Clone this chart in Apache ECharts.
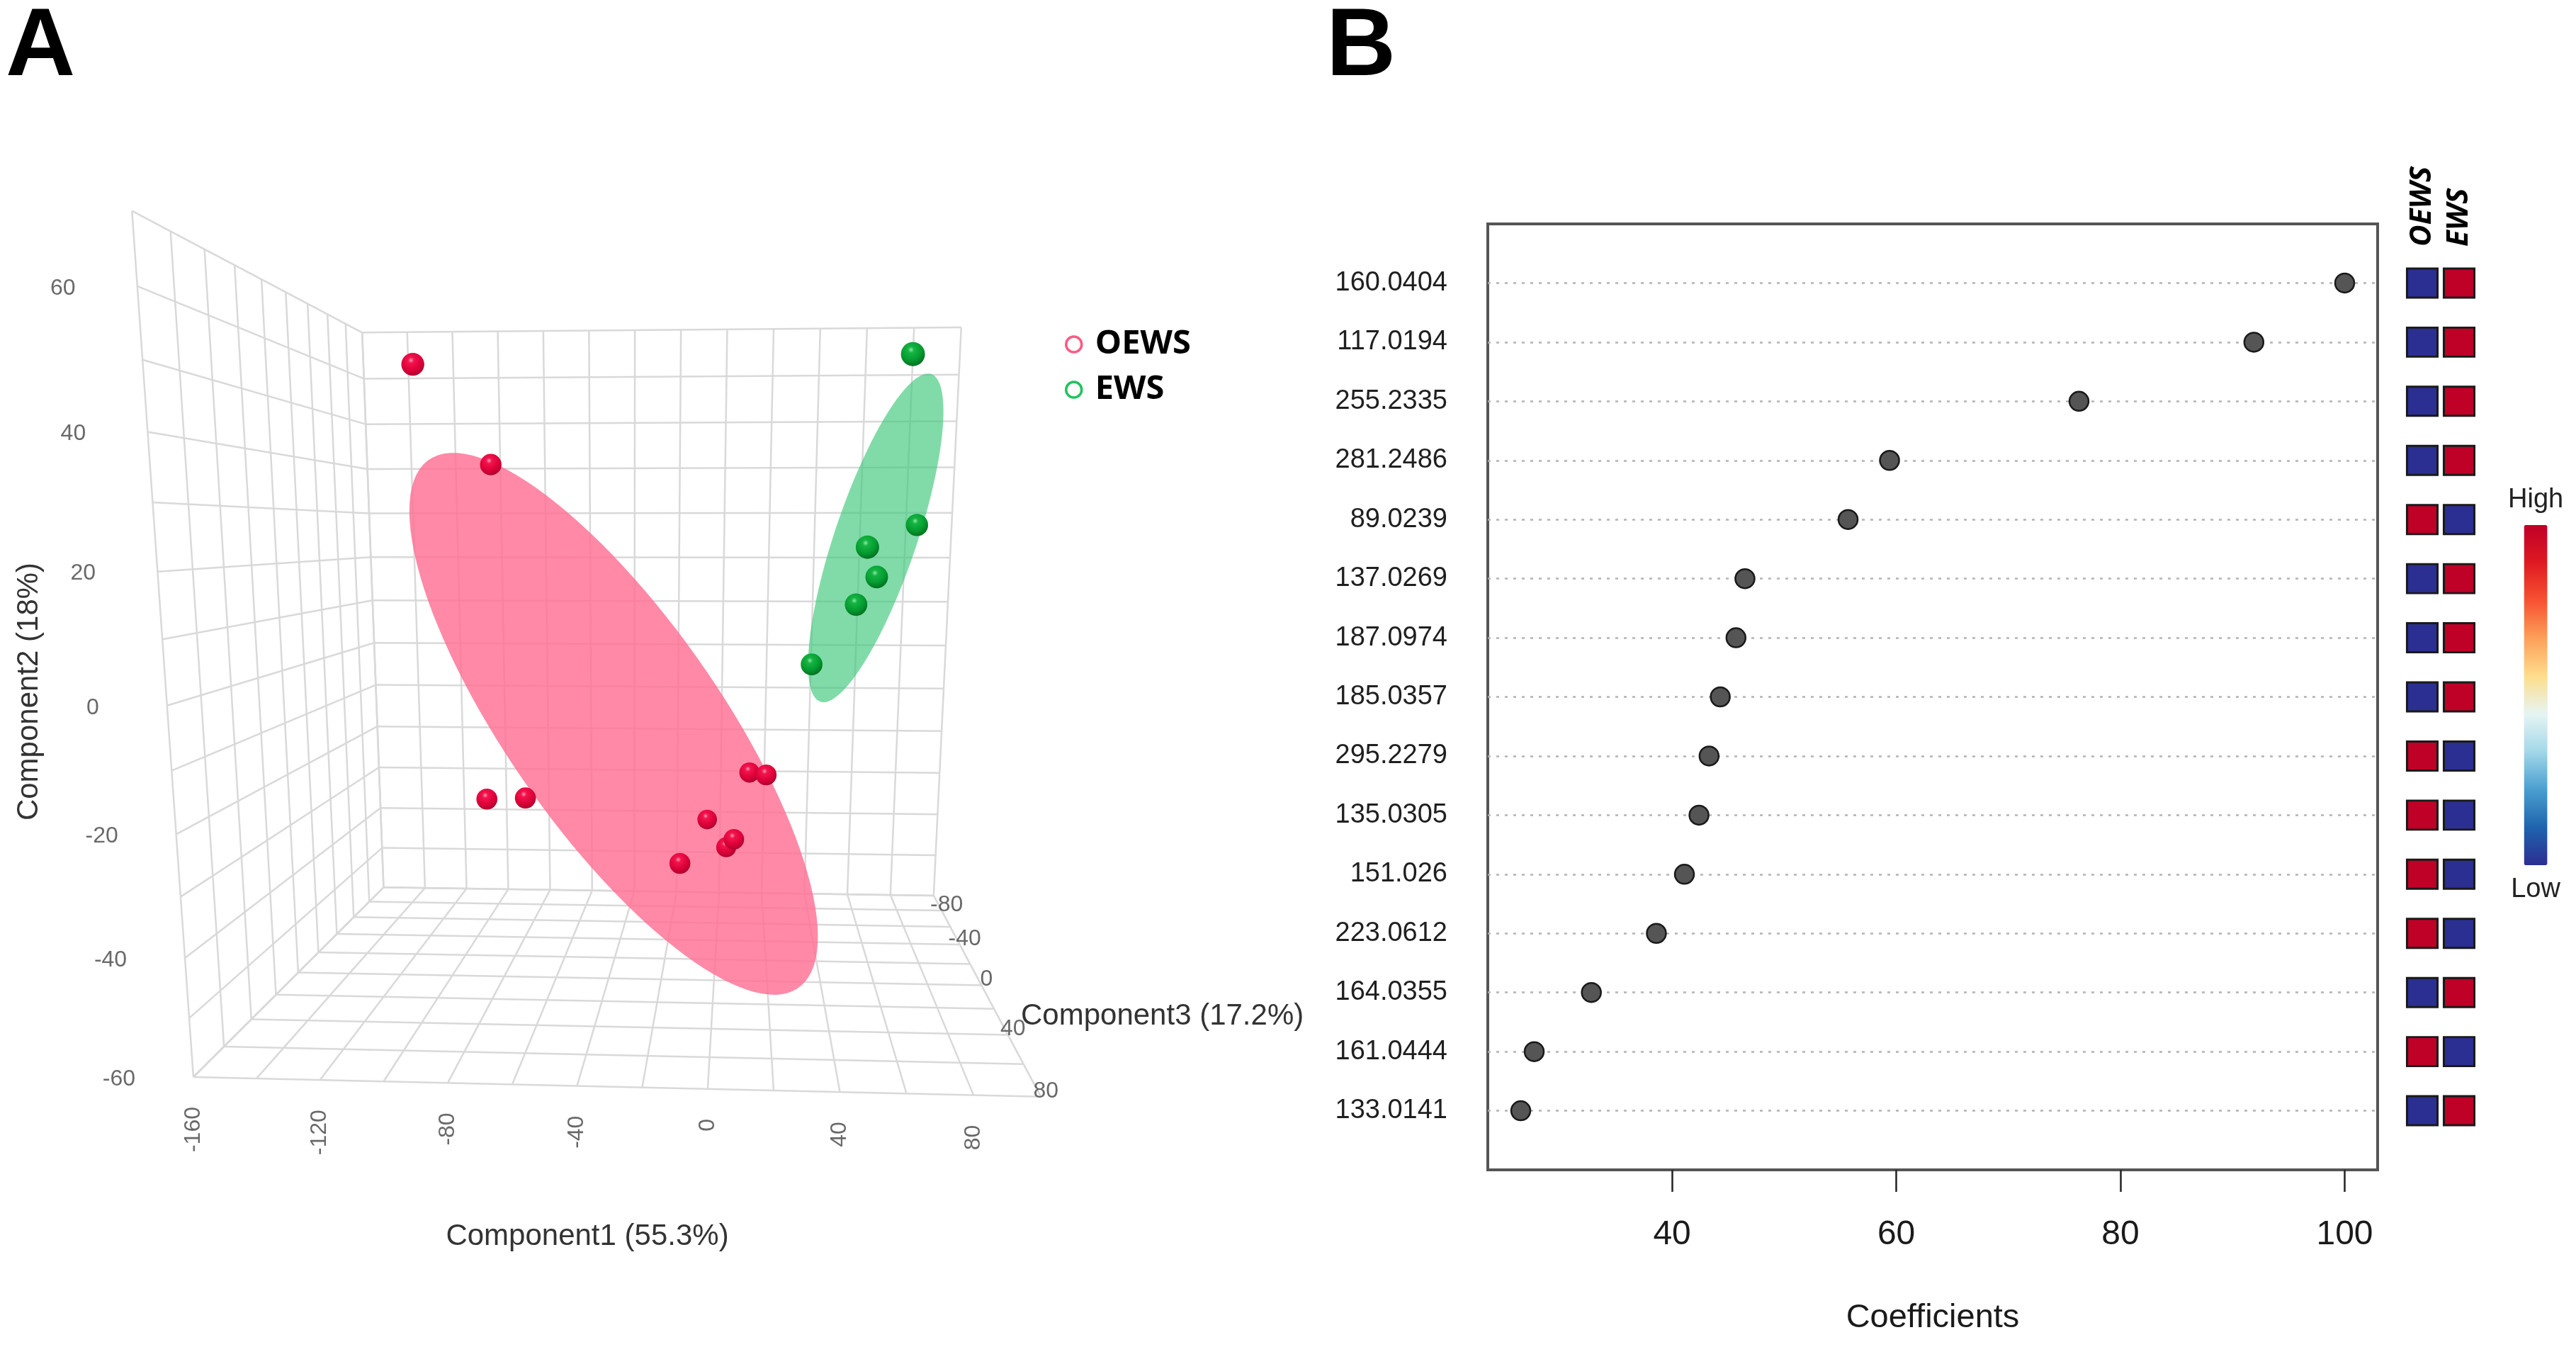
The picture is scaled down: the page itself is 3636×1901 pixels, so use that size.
<!DOCTYPE html>
<html>
<head>
<meta charset="utf-8">
<title>PLS-DA scores and coefficients</title>
<script src="https://cdn.jsdelivr.net/npm/echarts@6/dist/echarts.min.js"></script>
<style>
html,body{margin:0;padding:0;background:#fff;}
#chart{width:3636px;height:1901px;}
</style>
</head>
<body>
<div id="chart"></div>
<script>
// ---------- panel B : coefficients ----------
var features=['160.0404','117.0194','255.2335','281.2486','89.0239','137.0269','187.0974','185.0357','295.2279','135.0305','151.026','223.0612','164.0355','161.0444','133.0141'];
var coefficients=[100,91.9,76.3,59.4,55.7,46.5,45.7,44.3,43.3,42.4,41.1,38.6,32.8,27.7,26.5];
var groups=['OEWS','EWS'];
var oewsLevel=[0,0,0,0,1,0,0,0,1,1,1,1,0,1,0];//1 high 0 low
var ewsLevel=[1,1,1,1,0,1,1,1,0,0,0,0,1,0,1];
var coefTicks=[40,60,80,100];

// ---------- panel A : 3D scores ----------
var oewsC1=[-107.9,-85.8,-87.6,-72.8,12.3,18.6,-4.4,6.6,3.6,-13.8];
var oewsC2=[55.3,38.4,-25.7,-25.4,-22.2,-21.5,-33.5,-34.7,-37.9,-38.2];
var oewsC3=[0,-20,-10,-10,-30,-20,-40,-20,-30,-10];
var ewsC1=[63.3,70.3,50.6,55.4,48.5,34.1];
var ewsC2=[55.6,27.0,23.1,17.7,12.7,1.1];
var ewsC3=[10,-10,10,0,0,-10];
// confidence ellipsoids: centre and two semi axes (data units)
var oewsEllCenter=[-37.8,-12.9,-15], oewsEllAxisA=[70.2,-51.9,0], oewsEllAxisB=[33.2,12.2,0];
var ewsEllCenter=[54.1,23.9,0], ewsEllAxisA=[-17.2,-29.1,0], ewsEllAxisB=[13.7,-2.3,0];
var c1Ticks=[-160,-120,-80,-40,0,40,80];
var c2Ticks=[-60,-40,-20,0,20,40,60];
var c3Ticks=[-80,-40,0,40,80];
var c1Range=[-160,100], c2Range=[-60,70], c3Range=[-100,80];

var SANS="'Liberation Sans',Arial,sans-serif";
var BOLD="'Open Sans','Noto Sans',sans-serif";

// box corners / grid crossings as seen on the page: [c1,c2,c3, px,py]
var viewAnchors=[
 [-160,70,80,184,298.5],[-160,-60,80,274,1520],[100,-60,80,1468,1548],
 [-160,70,-100,512.6,469.4],[100,70,-100,1356.4,461.7],[-160,-60,-100,540,1252.6],[100,-60,-100,1319,1264],
 [-160,60,80,191.7,403],[-160,40,80,206.9,609.7],[-160,20,80,221.4,806],[-160,0,80,235.3,995],
 [-160,-20,80,248.7,1176],[-160,-40,80,261.6,1352],
 [-120,-60,80,453.5,1524],[-80,-60,80,634,1529],[0,-60,80,1000.5,1536.7],[40,-60,80,1185.3,1542],[80,-60,80,1373.6,1545.5],
 [-160,70,40,288.8,353],[-160,70,0,370.3,395.4],[-160,70,-60,463.8,443.5],
 [-80,70,-100,769,466.5],[0,70,-100,1026.3,464.5],[-40,20,-100,894.5,786.7],[-40,-20,-100,893.8,1028],
 [-160,-20,-100,532,1025.5],[-160,-40,-100,536.7,1140]
];

function nx(X){return (X-(c1Range[0]+c1Range[1])/2)/((c1Range[1]-c1Range[0])/2);}
function ny(Y){return (Y-(c2Range[0]+c2Range[1])/2)/((c2Range[1]-c2Range[0])/2);}
function nz(Z){return (Z-(c3Range[0]+c3Range[1])/2)/((c3Range[1]-c3Range[0])/2);}

//least squares camera (DLT)
function fitView(anchors){
  var rows=[],rhs=[],i,j,k;
  anchors.forEach(function(a){
    var X=nx(a[0]),Y=ny(a[1]),Z=nz(a[2]),u=(a[3]-800)/500,v=(a[4]-900)/500;
    rows.push([X,Y,Z,1,0,0,0,0,-u*X,-u*Y,-u*Z]);rhs.push(u);
    rows.push([0,0,0,0,X,Y,Z,1,-v*X,-v*Y,-v*Z]);rhs.push(v);
  });
  var n=11,M=[],r=[];
  for(i=0;i<n;i++){M.push([]);r.push(0);for(j=0;j<n;j++)M[i].push(0);}
  for(k=0;k<rows.length;k++){
    for(i=0;i<n;i++){
      r[i]+=rows[k][i]*rhs[k];
      for(j=0;j<n;j++)M[i][j]+=rows[k][i]*rows[k][j];
    }
  }
  for(i=0;i<n;i++){
    var p=i;
    for(j=i+1;j<n;j++)if(Math.abs(M[j][i])>Math.abs(M[p][i]))p=j;
    var t=M[i];M[i]=M[p];M[p]=t;t=r[i];r[i]=r[p];r[p]=t;
    for(j=i+1;j<n;j++){
      var f=M[j][i]/M[i][i];
      for(var c=i;c<n;c++)M[j][c]-=f*M[i][c];
      r[j]-=f*r[i];
    }
  }
  var x=[];
  for(i=n-1;i>=0;i--){
    var s=r[i];
    for(j=i+1;j<n;j++)s-=M[i][j]*x[j];
    x[i]=s/M[i][i];
  }
  return x;
}
var P=fitView(viewAnchors);
function project(X,Y,Z){
  var x=nx(X),y=ny(Y),z=nz(Z);
  var w=P[8]*x+P[9]*y+P[10]*z+1;
  return [800+500*(P[0]*x+P[1]*y+P[2]*z+P[3])/w,900+500*(P[4]*x+P[5]*y+P[6]*z+P[7])/w,w];
}

//box grid on back wall, left wall and floor
var gridSegs=[];
function addSeg(a,b){
  var p=project(a[0],a[1],a[2]),q=project(b[0],b[1],b[2]);
  gridSegs.push([p[0],p[1],q[0],q[1]]);
}
var X,Y,Z;
for(X=c1Range[0];X<=c1Range[1];X+=20){addSeg([X,c2Range[0],c3Range[0]],[X,c2Range[1],c3Range[0]]);addSeg([X,c2Range[0],c3Range[0]],[X,c2Range[0],c3Range[1]]);}
for(Y=c2Range[0];Y<=c2Range[1];Y+=10){addSeg([c1Range[0],Y,c3Range[0]],[c1Range[1],Y,c3Range[0]]);addSeg([c1Range[0],Y,c3Range[0]],[c1Range[0],Y,c3Range[1]]);}
for(Z=c3Range[0];Z<=c3Range[1];Z+=20){addSeg([c1Range[0],c2Range[0],Z],[c1Range[0],c2Range[1],Z]);addSeg([c1Range[0],c2Range[0],Z],[c1Range[1],c2Range[0],Z]);}

var sphereBase=30.5;
function spheres(c1,c2,c3){
  var out=c1.map(function(v,i){var p=project(v,c2[i],c3[i]);return [p[0],p[1],sphereBase/p[2],p[2]];});
  out.sort(function(a,b){return b[3]-a[3];});
  return out;
}
var ellipses=[
 {center:oewsEllCenter,a:oewsEllAxisA,b:oewsEllAxisB,fill:'rgba(255,108,145,0.8)'},
 {center:ewsEllCenter,a:ewsEllAxisA,b:ewsEllAxisB,fill:'rgba(62,200,122,0.65)'}
];

var c1Labels=c1Ticks.map(function(t){var p=project(t,c2Range[0],c3Range[1]);return {name:String(t),value:[p[0],p[1]+42]};});
var c2Labels=c2Ticks.map(function(t){var p=project(c1Range[0],t,c3Range[1]);return {name:String(t),value:[p[0]-105,p[1]+3]};});
var c3Labels=c3Ticks.map(function(t){var p=project(c1Range[1],c2Range[0],t);return {name:String(t),value:[p[0]+7,p[1]-8]};});

function sphereColor(hi,mid,edge,light){
  return {type:'radial',x:0.42,y:0.32,r:0.72,colorStops:[{offset:0,color:light},{offset:0.18,color:hi},{offset:0.6,color:mid},{offset:1,color:edge}]};
}

var heatData=[];
features.forEach(function(f,i){heatData.push([0,i+1,oewsLevel[i]]);heatData.push([1,i+1,ewsLevel[i]]);});
var coefRange=Math.max.apply(null,coefficients)-Math.min.apply(null,coefficients);
var coefMin=Math.min.apply(null,coefficients)-0.04*coefRange, coefMax=Math.max.apply(null,coefficients)+0.04*coefRange;

var chart=echarts.init(document.getElementById('chart'));
var option={
  backgroundColor:'#fff',
  animation:false,
  grid:[
    {left:0,top:0,width:1900,height:1901},
    {left:2100,top:316,width:1256,height:1335,show:true,borderColor:'#555',borderWidth:4,backgroundColor:'transparent'},
    {left:3393,top:316,width:104,height:1335}
  ],
  xAxis:[
    {gridIndex:0,type:'value',min:0,max:1900,show:false},
    {gridIndex:1,type:'value',min:coefMin,max:coefMax,position:'bottom',
      axisLine:{show:false,onZero:false},splitLine:{show:false},
      axisTick:{show:true,length:31,customValues:coefTicks,lineStyle:{color:'#222',width:2.5}},
      axisLabel:{customValues:coefTicks,margin:68,fontSize:48,color:'#1a1a1a',fontFamily:SANS},
      name:'Coefficients',nameLocation:'middle',nameGap:186,nameTextStyle:{fontSize:47,color:'#1a1a1a',fontFamily:SANS}},
    {gridIndex:2,type:'category',data:groups,position:'top',offset:-40,
      axisLine:{show:false},axisTick:{show:false},
      axisLabel:{rotate:90,margin:8,interval:0,fontSize:42,fontWeight:'bold',fontStyle:'italic',fontFamily:BOLD,color:'#000'}}
  ],
  yAxis:[
    {gridIndex:0,type:'value',min:0,max:1901,inverse:true,show:false},
    {gridIndex:1,type:'value',min:0,max:16,interval:1,inverse:true,
      axisLine:{show:false},axisTick:{show:false},
      axisLabel:{margin:57,fontSize:38,color:'#1f1f1f',fontFamily:SANS,formatter:function(v){return features[v-1]||'';}},
      splitLine:{show:true,showMinLine:false,showMaxLine:false,lineStyle:{type:[4,8],color:'#b3b3b3',width:2.5}}},
    {gridIndex:2,type:'value',min:0,max:16,inverse:true,show:false}
  ],
  legend:{
    orient:'vertical',left:1498,top:455,itemWidth:22,itemHeight:22,itemGap:12,selectedMode:false,
    textStyle:{fontSize:47,fontWeight:'bold',fontFamily:BOLD,color:'#000',lineHeight:52,padding:[0,0,0,14]},
    data:[
      {name:'OEWS',icon:'circle',itemStyle:{color:'#fff',borderColor:'#ff5a85',borderWidth:3.5}},
      {name:'EWS',icon:'circle',itemStyle:{color:'#fff',borderColor:'#22c25e',borderWidth:3.5}}
    ]
  },
  visualMap:{
    type:'continuous',seriesIndex:8,dimension:2,min:0,max:1,calculable:false,hoverLink:false,
    orient:'vertical',left:3525,top:672,itemWidth:33,itemHeight:480,
    text:['High','Low'],textGap:16,textStyle:{fontSize:38,color:'#222',fontFamily:SANS},
    inRange:{color:['#2b2f92','#1f63ad','#4a9fd0','#a3d7e9','#e6f5f3','#fedd8c','#fca05a','#f75232','#df1a22','#bf0027']}
  },
  graphic:[
    {type:'text',x:8,y:68,style:{text:'A',fontSize:136,fontWeight:'bold',fontFamily:SANS,fill:'#000',align:'left',verticalAlign:'middle'}},
    {type:'text',x:1872,y:68,style:{text:'B',fontSize:136,fontWeight:'bold',fontFamily:SANS,fill:'#000',align:'left',verticalAlign:'middle'}},
    {type:'text',x:829,y:1745,style:{text:'Component1 (55.3%)',fontSize:42,fontFamily:SANS,fill:'#333',align:'center',verticalAlign:'middle'}},
    {type:'text',x:41,y:976,rotation:Math.PI/2,style:{text:'Component2 (18%)',fontSize:42,fontFamily:SANS,fill:'#333',align:'center',verticalAlign:'middle'}},
    {type:'text',x:1441,y:1434,style:{text:'Component3 (17.2%)',fontSize:42,fontFamily:SANS,fill:'#333',align:'left',verticalAlign:'middle'}}
  ],
  series:[
    {type:'custom',xAxisIndex:0,yAxisIndex:0,silent:true,z:1,data:gridSegs,encode:{x:[0,2],y:[1,3]},
      renderItem:function(params,api){
        var a=api.coord([api.value(0),api.value(1)]),b=api.coord([api.value(2),api.value(3)]);
        return {type:'line',shape:{x1:a[0],y1:a[1],x2:b[0],y2:b[1]},style:{stroke:'#d9d9d9',lineWidth:2.5}};
      }},
    {type:'custom',xAxisIndex:0,yAxisIndex:0,silent:true,z:2,
      data:ellipses.map(function(e){var p=project(e.center[0],e.center[1],e.center[2]);return [p[0],p[1]];}),
      renderItem:function(params,api){
        var e=ellipses[params.dataIndex],pts=[];
        for(var k=0;k<120;k++){
          var t=2*Math.PI*k/120,c=Math.cos(t),s=Math.sin(t);
          var p=project(e.center[0]+e.a[0]*c+e.b[0]*s,e.center[1]+e.a[1]*c+e.b[1]*s,e.center[2]+e.a[2]*c+e.b[2]*s);
          pts.push(api.coord([p[0],p[1]]));
        }
        return {type:'polygon',shape:{points:pts},style:{fill:e.fill}};
      }},
    {name:'OEWS',type:'scatter',xAxisIndex:0,yAxisIndex:0,z:3,silent:true,data:spheres(oewsC1,oewsC2,oewsC3),
      symbolSize:function(v){return v[2];},itemStyle:{opacity:1,color:sphereColor('#f2154d','#de003a','#a9002b','#ff9bb2')}},
    {name:'EWS',type:'scatter',xAxisIndex:0,yAxisIndex:0,z:3,silent:true,data:spheres(ewsC1,ewsC2,ewsC3),
      symbolSize:function(v){return v[2];},itemStyle:{opacity:1,color:sphereColor('#16b443','#039c30','#006a1e','#8fe8a8')}},
    {type:'scatter',xAxisIndex:0,yAxisIndex:0,z:4,silent:true,symbolSize:0,data:c1Labels,
      label:{show:true,position:'inside',rotate:90,align:'right',verticalAlign:'middle',formatter:'{b}',fontSize:32,color:'#444',fontFamily:SANS}},
    {type:'scatter',xAxisIndex:0,yAxisIndex:0,z:4,silent:true,symbolSize:0,data:c2Labels,
      label:{show:true,position:'inside',align:'center',verticalAlign:'middle',formatter:'{b}',fontSize:32,color:'#444',fontFamily:SANS}},
    {type:'scatter',xAxisIndex:0,yAxisIndex:0,z:4,silent:true,symbolSize:0,data:c3Labels,
      label:{show:true,position:'inside',align:'center',verticalAlign:'middle',formatter:'{b}',fontSize:32,color:'#444',fontFamily:SANS}},
    {type:'scatter',xAxisIndex:1,yAxisIndex:1,z:3,silent:true,symbol:'circle',symbolSize:27,
      data:coefficients.map(function(v,i){return [v,i+1];}),
      itemStyle:{opacity:1,color:'#555',borderColor:'#1a1a1a',borderWidth:2.5}},
    {type:'scatter',xAxisIndex:2,yAxisIndex:2,z:3,silent:true,symbol:'rect',symbolSize:[43,41],
      data:heatData,itemStyle:{opacity:1,borderColor:'#1a1a1a',borderWidth:3}}
  ]
};
chart.setOption(option);
</script>
</body>
</html>
